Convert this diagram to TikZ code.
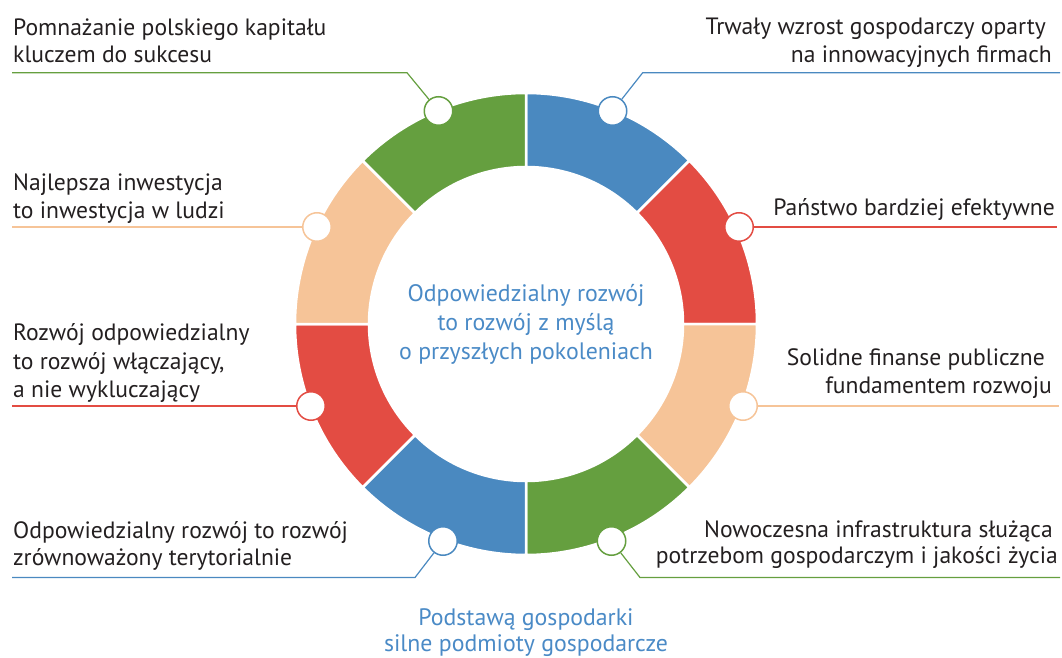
\documentclass[tikz,border=0pt]{standalone}
\usepackage{fontspec}
\setmainfont{PT Sans}
\definecolor{cblue}{HTML}{4A89C0}
\definecolor{cred}{HTML}{E34C43}
\definecolor{cpeach}{HTML}{F6C498}
\definecolor{cgreen}{HTML}{659F3F}
\definecolor{ctext}{HTML}{231F20}
\definecolor{ctitle}{HTML}{4A8AC6}
\begin{document}
\begin{tikzpicture}[x=1pt,y=1pt,
  lbl/.style={font=\fontsize{23.6}{27}\selectfont, text=ctext, inner sep=0pt},
  lblL/.style={lbl, anchor=base west},
  lblR/.style={lbl, anchor=base east},
  ctr/.style={font=\fontsize{23.8}{27}\selectfont, text=ctitle, inner sep=0pt, anchor=base},
  dot/.style={circle, draw=#1, fill=white, line width=1.5pt, minimum size=28.5pt, inner sep=0pt},
  lead/.style={draw=#1, line width=1.2pt},
  seg/.style={fill=#1, draw=white, line width=2.5pt}]
\useasboundingbox (0,0) rectangle (1062,657);
\coordinate (C) at (526,333);
% ring
\foreach \a/\b/\col in {45/90/cblue, 0/45/cred, -45/0/cpeach, -90/-45/cgreen, -135/-90/cblue, -180/-135/cred, 135/180/cpeach, 90/135/cgreen}{
  \filldraw[seg=\col] ([shift={(C)}]\a:231) arc[start angle=\a, end angle=\b, radius=231]
    -- ([shift={(C)}]\b:157) arc[start angle=\b, end angle=\a, radius=157] -- cycle;
}
% dots
\node[dot=cgreen] (d1) at (438.5,546) {};
\node[dot=cblue]  (d2) at (612.5,546) {};
\node[dot=cred]   (d3) at (739,430) {};
\node[dot=cpeach] (d4) at (743,251) {};
\node[dot=cgreen] (d5) at (611.5,116) {};
\node[dot=cblue]  (d6) at (443,116) {};
\node[dot=cred]   (d7) at (311,251) {};
\node[dot=cpeach] (d8) at (317,430) {};
% leader points
\coordinate (k1) at (407,584.3);  \coordinate (e1) at (12,584.3);
\coordinate (k2) at (642.7,584.3);\coordinate (e2) at (1060,584.3);
\coordinate (e3) at (1057,430);
\coordinate (e4) at (1059,251);
\coordinate (k5) at (640,79.5);   \coordinate (e5) at (1060,79.5);
\coordinate (k6) at (415,79.5);   \coordinate (e6) at (12,79.5);
\coordinate (e7) at (12,251);
\coordinate (e8) at (12,430);
\draw[lead=cgreen] (d1) -- (k1) -- (e1);
\draw[lead=cblue]  (d2) -- (k2) -- (e2);
\draw[lead=cred]   (d3) -- (e3);
\draw[lead=cpeach] (d4) -- (e4);
\draw[lead=cgreen] (d5) -- (k5) -- (e5);
\draw[lead=cblue]  (d6) -- (k6) -- (e6);
\draw[lead=cred]   (d7) -- (e7);
\draw[lead=cpeach] (d8) -- (e8);
% labels
\node[lblL] (t1a) at (13,621) {Pomnażanie polskiego kapitału};
\node[lblL] (t1b) at (13,594.3) {kluczem do sukcesu};
\node[lblR] (t2a) at (1046,622) {Trwały wzrost gospodarczy oparty};
\node[lblR] (t2b) at (1052,594) {na innowacyjnych firmach};
\node[lblL] (t8a) at (13,466.3) {Najlepsza inwestycja};
\node[lblL] (t8b) at (13,438.7) {to inwestycja w ludzi};
\node[lblR] (t3a) at (1055,441) {Państwo bardziej efektywne};
\node[lblL] (t7a) at (13,316.5) {Rozwój odpowiedzialny};
\node[lblL] (t7b) at (13,288) {to rozwój włączający,};
\node[lblL] (t7c) at (13,259.5) {a nie wykluczający};
\node[lblR] (t4a) at (1045,292) {Solidne finanse publiczne};
\node[lblR] (t4b) at (1052,263.7) {fundamentem rozwoju};
\node[lblL] (t6a) at (13,118.7) {Odpowiedzialny rozwój to rozwój};
\node[lblL] (t6b) at (13,91.3) {zrównoważony terytorialnie};
\node[lblR] (t5a) at (1053,120) {Nowoczesna infrastruktura służąca};
\node[lblR] (t5b) at (1058,94) {potrzebom gospodarczym i jakości życia};
% centre
\node[ctr] (c1) at (526,355.3) {Odpowiedzialny rozwój};
\node[ctr] (c2) at (526,326.3) {to rozwój z myślą};
\node[ctr] (c3) at (526,298) {o przyszłych pokoleniach};
\node[ctr] (b1) at (526,31.3) {Podstawą gospodarki};
\node[ctr] (b2) at (526,5.5) {silne podmioty gospodarcze};
\end{tikzpicture}
\end{document}
